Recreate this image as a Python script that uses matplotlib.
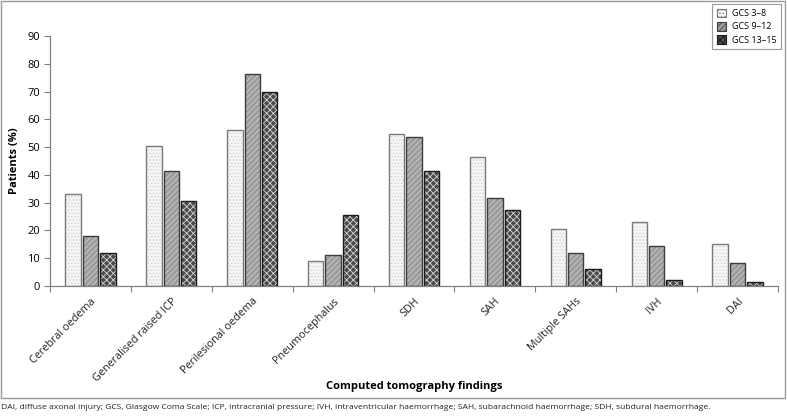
import matplotlib
matplotlib.use("Agg")
import matplotlib.pyplot as plt
import numpy as np
from matplotlib.patches import Rectangle, Patch
import matplotlib.transforms as mtransforms

plt.rcParams['font.family'] = ['Open Sans', 'DejaVu Sans']
plt.rcParams['hatch.linewidth'] = 0.6

categories = ['Cerebral oedema', 'Generalised raised ICP', 'Perilesional oedema',
              'Pneumocephalus', 'SDH', 'SAH', 'Multiple SAHs', 'IVH', 'DAI']
series_names = ['GCS 3–8', 'GCS 9–12', 'GCS 13–15']
gcs_3_8 = [33.0, 50.5, 56.3, 9.0, 54.8, 46.5, 20.5, 23.0, 15.0]
gcs_9_12 = [18.0, 41.5, 76.3, 11.3, 53.7, 31.7, 12.0, 14.5, 8.2]
gcs_13_15 = [12.0, 30.5, 70.0, 25.5, 41.3, 27.2, 6.0, 2.0, 1.5]
yticks = [0, 10, 20, 30, 40, 50, 60, 70, 80, 90]
footnote = ('DAI, diffuse axonal injury; GCS, Glasgow Coma Scale; ICP, intracranial pressure; '
            'IVH, intraventricular haemorrhage; SAH, subarachnoid haemorrhage; SDH, subdural haemorrhage.')

W, H = 787, 416
fig = plt.figure(figsize=(W / 100, H / 100), dpi=100)
ax = fig.add_axes([50 / W, 1 - 286 / H, (778 - 50) / W, (286 - 36) / H])

styles = [
    dict(face='#f6f6f6', hatch='.....', hcol='#d0d0d0', edge='#7a7a7a'),
    dict(face='#9c9c9c', hatch='//////', hcol='#cfcfcf', edge='#3c3c3c'),
    dict(face='#4a4a4a', hatch='xxxxx', hcol='#d8d8d8', edge='#1a1a1a'),
]
data = [gcs_3_8, gcs_9_12, gcs_13_15]
x = np.arange(len(categories))
bw = 0.19
step = 0.215
for i, (vals, st) in enumerate(zip(data, styles)):
    pos = x + (i - 1) * step
    ax.bar(pos, vals, width=bw, color=st['face'], edgecolor=st['hcol'],
           hatch=st['hatch'], linewidth=0, zorder=2)
    ax.bar(pos, vals, width=bw, fill=False, edgecolor=st['edge'],
           linewidth=1.0, zorder=3)

ax.set_xlim(-0.5, len(categories) - 0.5)
ax.set_ylim(0, 90)
ax.set_yticks(yticks)
ax.set_yticklabels([str(v) for v in yticks], fontsize=8)
ax.set_xticks(np.arange(len(categories) + 1) - 0.5)
ax.set_xticklabels([])
ax.tick_params(axis='both', direction='out', length=4, color='#808080', width=0.8, pad=3)
for s in ['top', 'right']:
    ax.spines[s].set_visible(False)
for s in ['left', 'bottom']:
    ax.spines[s].set_color('#808080')
    ax.spines[s].set_linewidth(0.9)

trans = mtransforms.blended_transform_factory(ax.transData, ax.transAxes)
off = mtransforms.ScaledTranslation(0, -10 / 100, fig.dpi_scale_trans)
for xi, lab in zip(x, categories):
    ax.text(xi, 0, lab, transform=trans + off, rotation=45, ha='right', va='top',
            rotation_mode='anchor', fontsize=7.8, color='#222222')

fig.text(414 / W, 1 - 386 / H, 'Computed tomography findings', ha='center', va='center',
         fontsize=8, fontweight='bold')
fig.text(14 / W, 1 - 161 / H, 'Patients (%)', ha='center', va='center', rotation=90,
         fontsize=8, fontweight='bold')
fig.text(1 / W, 1 - 409 / H, footnote, ha='left', va='baseline', fontsize=6.1, color='#222222')

# outer frame
fig.patches.append(Rectangle((0.5 / W, 1 - 398 / H), 784.5 / W, 397.5 / H, transform=fig.transFigure,
                             fill=False, edgecolor='#9a9a9a', linewidth=1.0))

handles = [Patch(facecolor=st['face'], edgecolor=st['edge'], hatch=st['hatch'], linewidth=0.8)
           for st in styles]
leg = fig.legend(handles, series_names, loc='upper right', bbox_to_anchor=(781 / W, 1 - 4 / H),
                 fontsize=6.5, frameon=True, fancybox=False, handlelength=1.1, handleheight=1.1,
                 handletextpad=0.6, borderpad=0.5, labelspacing=0.45, borderaxespad=0)
leg.get_frame().set_edgecolor('#808080')
leg.get_frame().set_linewidth(0.8)

fig.savefig('out.png', dpi=100)
